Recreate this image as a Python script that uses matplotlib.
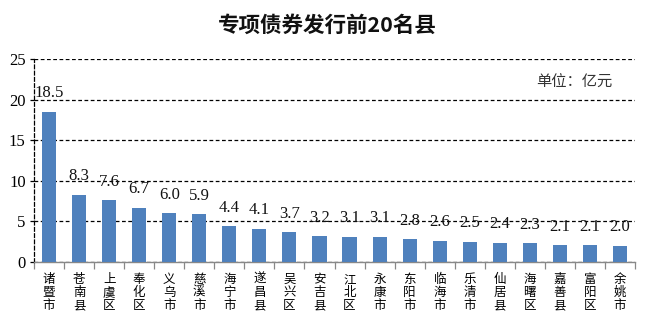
import matplotlib
matplotlib.use("Agg")
import matplotlib.pyplot as plt

counties = ["诸暨市", "苍南县", "上虞区", "奉化区", "义乌市", "慈溪市", "海宁市", "遂昌县",
            "吴兴区", "安吉县", "江北区", "永康市", "东阳市", "临海市", "乐清市", "仙居县",
            "海曙区", "嘉善县", "富阳区", "余姚市"]
amounts = [18.5, 8.3, 7.6, 6.7, 6.0, 5.9, 4.4, 4.1, 3.7, 3.2,
           3.1, 3.1, 2.8, 2.6, 2.5, 2.4, 2.3, 2.1, 2.1, 2.0]
y_ticks = [0, 5, 10, 15, 20, 25]

cjk = ["Noto Sans CJK SC", "DejaVu Sans"]
serif = ["Liberation Serif", "DejaVu Serif"]

fig = plt.figure(figsize=(6.5, 3.24), dpi=100)
ax = fig.add_axes([34 / 650, 1 - 262 / 324, 601 / 650, 203 / 324])

x = list(range(len(counties)))
ax.bar(x, amounts, width=0.47, color="#4F81BD", zorder=3)
ax.set_xlim(-0.5, len(counties) - 0.5)
ax.set_ylim(0, 25)

for xi, v in zip(x, amounts):
    ax.annotate(f"{v:.1f}", (xi, v), xytext=(0, 7.5), textcoords="offset points",
                ha="center", va="bottom", fontsize=12, family=serif, color="#111111",
                zorder=4)

ax.set_yticks(y_ticks)
ax.set_yticklabels([str(t) for t in y_ticks], family=serif, fontsize=12)
ax.yaxis.grid(True, linestyle=(0, (3, 2)), color="black", linewidth=0.9, zorder=1)

ax.set_xticks([i - 0.5 for i in range(len(counties) + 1)])
ax.set_xticklabels([])
ax.set_xticks(x, minor=True)
ax.set_xticklabels(["\n".join(c) for c in counties], minor=True, family=cjk,
                   fontsize=9, linespacing=1.0, va="top")
ax.tick_params(axis="x", which="major", length=5, color="#888888", width=0.9)
ax.tick_params(axis="x", which="minor", length=0, pad=8)
ax.tick_params(axis="y", length=3, width=0.9, color="black", pad=3)

for side in ("top", "right"):
    ax.spines[side].set_visible(False)
ax.spines["bottom"].set_color("#888888")
ax.spines["bottom"].set_linewidth(1.0)
ax.spines["left"].set_linestyle((0, (3, 2)))
ax.spines["left"].set_color("black")
ax.spines["left"].set_linewidth(0.9)

ax.text(0.963, 0.885, "单位：亿元", transform=ax.transAxes, ha="right", va="center",
        family=cjk, fontsize=11, color="#333333")

fig.text(327 / 650, 1 - 25 / 324, "专项债券发行前20名县", ha="center", va="center",
         family=cjk, fontsize=15.5, fontweight="bold", color="#111111")

fig.savefig("out.png", dpi=100)
